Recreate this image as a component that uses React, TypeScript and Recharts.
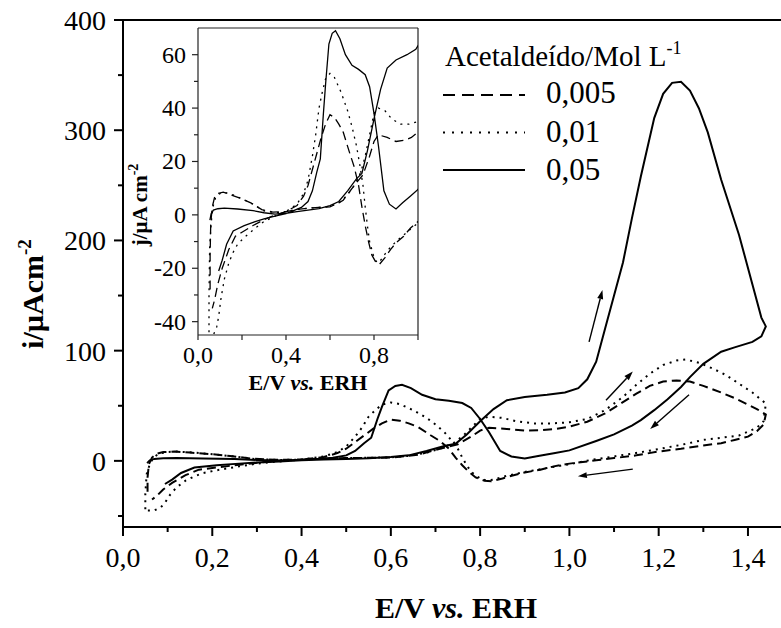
import React from 'react';
import {Legend, Line, LineChart, ReferenceLine, XAxis, YAxis} from 'recharts';

const serif = '"Liberation Serif", "Times New Roman", serif';

// voltametria ciclica: [E/V, i/uA cm-2], ida e volta a partir de 0,05 V
const cv005: [number, number][] = [
    [0.055, -28], [0.055, -15], [0.058, -3], [0.065, 3], [0.075, 6.5], [0.09, 8], [0.115, 8.5],
    [0.15, 7.5], [0.2, 6], [0.24, 4.5], [0.29, 2], [0.34, 1], [0.4, 1.2], [0.45, 2], [0.5, 2.5],
    [0.55, 2.8], [0.6, 3], [0.64, 4.5], [0.66, 5.5], [0.71, 11], [0.75, 15], [0.78, 22], [0.8, 27.5],
    [0.82, 30], [0.86, 29], [0.9, 27.5], [0.94, 28], [0.97, 29], [1.0, 31], [1.04, 35.5], [1.08, 43],
    [1.115, 52], [1.15, 61], [1.18, 68], [1.21, 72], [1.24, 73], [1.27, 72], [1.3, 68], [1.34, 62],
    [1.37, 57], [1.4, 51], [1.42, 47], [1.44, 42], [1.435, 33], [1.42, 27], [1.4, 22], [1.37, 19],
    [1.34, 16], [1.3, 14], [1.25, 11], [1.2, 8.5], [1.15, 5], [1.1, 2.5], [1.06, 0.5], [1.0, -2.5],
    [0.965, -5], [0.935, -8], [0.9, -10.5], [0.875, -13], [0.85, -16], [0.825, -18.5], [0.81, -18],
    [0.79, -15], [0.775, -10], [0.76, -4], [0.745, 3], [0.73, 11], [0.71, 18], [0.69, 23], [0.66, 31],
    [0.64, 34], [0.62, 36.5], [0.6, 37.5], [0.58, 34], [0.56, 29], [0.54, 23], [0.52, 17], [0.5, 11],
    [0.48, 7], [0.45, 3.5], [0.4, 1.2], [0.35, 0], [0.3, -1.8], [0.25, -4], [0.2, -6.5], [0.17, -8],
    [0.14, -13], [0.11, -20], [0.09, -26], [0.075, -32], [0.065, -35],
];

const cv01: [number, number][] = [
    [0.05, -44], [0.05, -30], [0.053, -12], [0.06, -3], [0.068, 3], [0.08, 6.5], [0.1, 8], [0.12, 8.5],
    [0.16, 7.5], [0.2, 6], [0.25, 4], [0.3, 1.5], [0.35, 0.8], [0.4, 1.2], [0.45, 2], [0.5, 2.5],
    [0.55, 2.8], [0.6, 3.2], [0.64, 4.5], [0.68, 7.5], [0.71, 11], [0.74, 16], [0.76, 22], [0.78, 30],
    [0.8, 38], [0.82, 40], [0.85, 39], [0.88, 36], [0.92, 34], [0.96, 34], [1.0, 35], [1.04, 38],
    [1.08, 46], [1.12, 58], [1.15, 69], [1.18, 79], [1.21, 87], [1.24, 91], [1.26, 92], [1.29, 89],
    [1.32, 84], [1.35, 78], [1.38, 70], [1.41, 62], [1.44, 52], [1.435, 36], [1.42, 30], [1.38, 23],
    [1.34, 21], [1.3, 19], [1.25, 14.5], [1.19, 10], [1.14, 6.5], [1.1, 4], [1.05, 1], [1.0, -3],
    [0.95, -6.5], [0.9, -10], [0.86, -13.5], [0.83, -17], [0.815, -18], [0.8, -16], [0.78, -10],
    [0.77, -4], [0.76, 3], [0.75, 11], [0.735, 19], [0.72, 26], [0.7, 33], [0.68, 39], [0.65, 46],
    [0.62, 51.5], [0.6, 53], [0.58, 51], [0.565, 46], [0.55, 40], [0.535, 30], [0.52, 22], [0.5, 13],
    [0.48, 8], [0.45, 4], [0.4, 1.3], [0.35, -0.5], [0.3, -2.5], [0.26, -5], [0.21, -8.5], [0.18, -11],
    [0.16, -14], [0.14, -18], [0.12, -24], [0.105, -31], [0.094, -38], [0.085, -42], [0.07, -45],
    [0.055, -45],
];

const cv05: [number, number][] = [
    [0.054, -2], [0.06, 0.5], [0.07, 1.8], [0.09, 2.3], [0.12, 2.5], [0.18, 2.2], [0.25, 1.6],
    [0.3, 0.8], [0.35, 0.3], [0.4, 0.6], [0.45, 1.2], [0.5, 1.8], [0.55, 2.3], [0.6, 3.5], [0.64, 5],
    [0.68, 9], [0.72, 13.5], [0.745, 15.5], [0.77, 24], [0.8, 36], [0.83, 47], [0.86, 55], [0.9, 58],
    [0.95, 60], [0.99, 62], [1.02, 66], [1.04, 74], [1.06, 90], [1.08, 120], [1.1, 150], [1.12, 180],
    [1.14, 220], [1.16, 258], [1.19, 311], [1.21, 333], [1.23, 343], [1.25, 344], [1.27, 336],
    [1.29, 320], [1.31, 298], [1.34, 255], [1.38, 205], [1.41, 160], [1.43, 130], [1.44, 122],
    [1.43, 113], [1.41, 108], [1.37, 103], [1.34, 99], [1.3, 88], [1.27, 76], [1.25, 67], [1.22, 56],
    [1.19, 46], [1.16, 37], [1.14, 32], [1.1, 24], [1.06, 18], [1.0, 9.5], [0.965, 7], [0.93, 4.5],
    [0.9, 2.2], [0.87, 4], [0.845, 9], [0.82, 26], [0.8, 38], [0.78, 48], [0.76, 52.5], [0.73, 54.5],
    [0.7, 56], [0.67, 60], [0.645, 66], [0.625, 69], [0.61, 68], [0.595, 64], [0.58, 49], [0.57, 38],
    [0.556, 21], [0.54, 16], [0.52, 9], [0.5, 5], [0.47, 2.8], [0.44, 1.8], [0.4, 0.5], [0.35, -0.5],
    [0.3, -1.5], [0.26, -2.5], [0.21, -4], [0.16, -6], [0.13, -11], [0.11, -17], [0.094, -21],
];

const seriesNames = ['0,005', '0,01', '0,05'];
const seriesDash = ['9 5', '2 5', undefined];
const legendDash = ['12 7', '2 7', undefined];

const mainXTicks = [0, 0.1, 0.2, 0.3, 0.4, 0.5, 0.6, 0.7, 0.8, 0.9, 1.0, 1.1, 1.2, 1.3, 1.4];
const mainYTicks = [-50, 0, 50, 100, 150, 200, 250, 300, 350, 400];
const insetXTicks = [0, 0.2, 0.4, 0.6, 0.8, 1.0];
const insetYTicks = [-40, -30, -20, -10, 0, 10, 20, 30, 40, 50, 60];

// setas: [E1, i1, E2, i2]
const arrows = [
    [1.044, 108, 1.074, 155],
    [1.082, 55, 1.142, 81],
    [1.268, 60, 1.181, 29],
    [1.142, -7.5, 1.019, -14],
];

const loops = [cv005, cv01, cv05].map(pts => pts.map(([e, i]) => ({e, i})));

const fmt = (v: number) => v.toFixed(1).replace('.', ',');

const MainXTick = ({x, y, payload}: any) => {
    const major = Math.round(payload.value * 10) % 2 === 0;
    return (
        <g>
            <line x1={x} x2={x} y1={y} y2={y + (major ? 9 : 5)} stroke="#000" strokeWidth={2}/>
            {major && <text x={x} y={y + 40} textAnchor="middle" fontSize={28} fontFamily={serif}>{fmt(payload.value)}</text>}
        </g>
    );
};

const MainYTick = ({x, y, payload}: any) => {
    const major = payload.value % 100 === 0;
    return (
        <g>
            <line x1={x - (major ? 9 : 5)} x2={x} y1={y} y2={y} stroke="#000" strokeWidth={2}/>
            {major && <text x={x - 17} y={y + 10} textAnchor="end" fontSize={28} fontFamily={serif}>{payload.value}</text>}
        </g>
    );
};

const InsetXTick = ({x, y, payload}: any) => {
    const major = Math.round(payload.value * 10) % 4 === 0;
    return (
        <g>
            <line x1={x} x2={x} y1={y} y2={y + 5} stroke="#222" strokeWidth={1.2}/>
            {major && <text x={x} y={y + 28} textAnchor="middle" fontSize={24} fontFamily={serif}>{fmt(payload.value)}</text>}
        </g>
    );
};

const InsetYTick = ({x, y, payload}: any) => {
    const major = payload.value % 20 === 0;
    return (
        <g>
            <line x1={x - (major ? 6 : 4)} x2={x} y1={y} y2={y} stroke="#222" strokeWidth={1.2}/>
            {major && <text x={x - 12} y={y + 8} textAnchor="end" fontSize={24} fontFamily={serif}>{payload.value}</text>}
        </g>
    );
};

const Arrow = ({x1, y1, x2, y2}: any) => {
    const a = Math.atan2(y2 - y1, x2 - x1);
    const bx = x2 - 9 * Math.cos(a);
    const by = y2 - 9 * Math.sin(a);
    const w = 3;
    const pts = `${x2},${y2} ${bx + w * Math.sin(a)},${by - w * Math.cos(a)} ${bx - w * Math.sin(a)},${by + w * Math.cos(a)}`;
    return (
        <g>
            <line x1={x1} y1={y1} x2={bx} y2={by} stroke="#000" strokeWidth={1.4}/>
            <polygon points={pts} fill="#000"/>
        </g>
    );
};

const xTitle = () => (
    <>
        E/V <tspan fontStyle="italic">vs.</tspan> ERH
    </>
);

const LegendBox = () => (
    <svg width={270} height={160} style={{display: 'block'}}>
        <text x={5} y={31} fontSize={29} fontFamily={serif}>
            Acetaldeído/Mol L<tspan dy={-12} fontSize={18}>-1</tspan>
        </text>
        {seriesNames.map((name, k) => (
            <g key={name}>
                <line x1={3} x2={85} y1={60 + k * 37.5} y2={60 + k * 37.5} stroke="#000" strokeWidth={2}
                      strokeDasharray={legendDash[k]}/>
                <text x={106} y={68 + k * 38.5} fontSize={31} fontFamily={serif}>{name}</text>
            </g>
        ))}
    </svg>
);

const App: React.FC = () => {
    return (
        <div style={{position: 'absolute', left: 0, top: 0, width: 781, height: 628, background: '#fff'}}>
            <LineChart width={781} height={628} margin={{top: 20, right: 0, bottom: 41, left: 0}}>
                <XAxis dataKey="e" type="number" domain={[0, 1.474]} ticks={mainXTicks} interval={0}
                       allowDataOverflow tickSize={0} tickMargin={0} tickLine={false}
                       tick={<MainXTick/>} height={60} axisLine={{stroke: '#000', strokeWidth: 2}}
                       label={{
                           content: ({viewBox}: any) => (
                               <text x={viewBox.x + 333} y={viewBox.y + 91} textAnchor="middle" fontSize={30}
                                     fontWeight="bold" fontFamily={serif}>{xTitle()}</text>
                           ),
                       }}/>
                <YAxis dataKey="i" type="number" domain={[-60, 400]} ticks={mainYTicks} interval={0}
                       allowDataOverflow tickSize={0} tickMargin={0} tickLine={false}
                       tick={<MainYTick/>} width={123} axisLine={{stroke: '#000', strokeWidth: 2}}
                       label={{
                           content: () => (
                               <text x={43} y={294} transform="rotate(-90 43 294)" textAnchor="middle"
                                     fontSize={30} fontWeight="bold" fontFamily={serif}>
                                   i/µAcm<tspan dy={-12} fontSize={19}>-2</tspan>
                               </text>
                           ),
                       }}/>
                <ReferenceLine y={400} stroke="#000" strokeWidth={2}/>
                {loops.map((rows, k) => (
                    <Line key={seriesNames[k]} name={seriesNames[k]} data={rows} dataKey="i" type="linear"
                          stroke="#000" strokeWidth={2} strokeDasharray={seriesDash[k]} dot={false}
                          isAnimationActive={false}/>
                ))}
                {arrows.map((a, k) => (
                    <ReferenceLine key={k} segment={[{x: a[0], y: a[1]}, {x: a[2], y: a[3]}]} shape={Arrow}/>
                ))}
                <Legend layout="vertical" align="center" verticalAlign="middle" content={() => <LegendBox/>}
                        wrapperStyle={{left: 440, top: 35, width: 270}}/>
            </LineChart>

            <div style={{position: 'absolute', left: 120, top: 20}}>
                <LineChart width={300} height={380} margin={{top: 8, right: 2, bottom: 0, left: 0}}>
                    <XAxis dataKey="e" type="number" domain={[0, 1.0]} ticks={insetXTicks} interval={0}
                           allowDataOverflow tickSize={0} tickMargin={0} tickLine={false}
                           tick={<InsetXTick/>} height={65} axisLine={{stroke: '#222', strokeWidth: 1.2}}
                           label={{
                               content: ({viewBox}: any) => (
                                   <text x={188} y={viewBox.y + 55} textAnchor="middle" fontSize={22}
                                         fontWeight="bold" fontFamily={serif}>{xTitle()}</text>
                               ),
                           }}/>
                    <YAxis dataKey="i" type="number" domain={[-45, 70]} ticks={insetYTicks} interval={0}
                           allowDataOverflow tickSize={0} tickMargin={0} tickLine={false}
                           tick={<InsetYTick/>} width={78} axisLine={{stroke: '#222', strokeWidth: 1.2}}
                           label={{
                               content: () => (
                                   <text x={27} y={185} transform="rotate(-90 27 185)" textAnchor="middle"
                                         fontSize={21} fontWeight="bold" fontFamily={serif}>
                                       j/µA cm<tspan dy={-9} fontSize={14}>-2</tspan>
                                   </text>
                               ),
                           }}/>
                    <ReferenceLine y={70} stroke="#222" strokeWidth={1.2}/>
                    <ReferenceLine x={1.0} stroke="#222" strokeWidth={1.2}/>
                    {loops.map((rows, k) => (
                        <Line key={seriesNames[k]} data={rows} dataKey="i" type="linear" stroke="#000"
                              strokeWidth={1.3} strokeDasharray={seriesDash[k]} dot={false}
                              isAnimationActive={false}/>
                    ))}
                </LineChart>
            </div>
        </div>
    );
};

export default App;
